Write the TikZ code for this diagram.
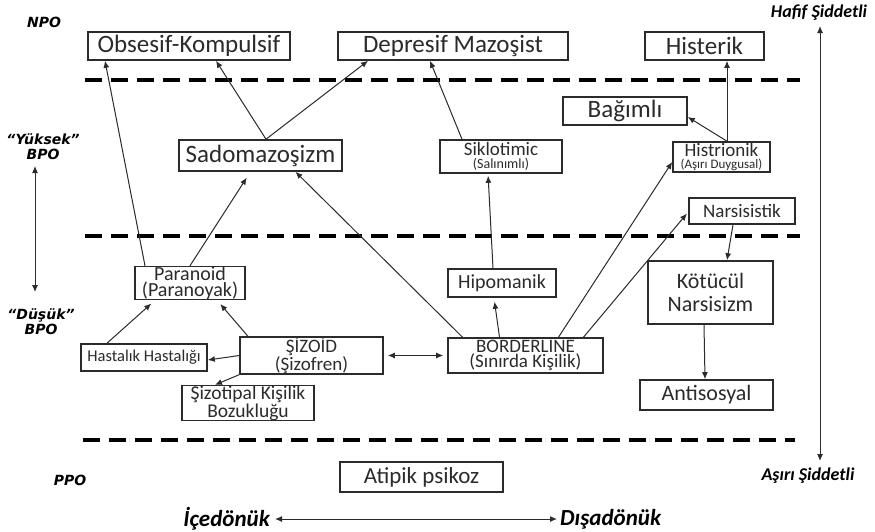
\documentclass[tikz,border=0pt]{standalone}
\usepackage{fontspec}
\setmainfont{Carlito}
\newfontfamily\widefont{DejaVu Sans}
\usetikzlibrary{arrows.meta}
\definecolor{ink}{HTML}{2B2B2B}
\newcommand\setfs[2]{\fontsize{#1}{#2}\selectfont}
\begin{document}
\begin{tikzpicture}[x=1pt,y=-1pt,
  box/.style={draw=ink, line width=1.6pt, inner sep=0pt, text=ink, align=center},
  arr/.style={draw=ink, line width=1pt, -{Latex[length=7pt,width=6pt]}},
  darr/.style={draw=ink, line width=1pt, {Latex[length=7pt,width=6pt]}-{Latex[length=7pt,width=6pt]}},
  sep/.style={draw=black, line width=3.5pt, dash pattern=on 17pt off 9pt},
  lab/.style={font=\bfseries\itshape\setfs{18}{18}, text=black, align=center, inner sep=0pt},
  wlab/.style={font=\widefont\bfseries\itshape\setfs{14}{15}, text=black, align=center, inner sep=0pt},
  axl/.style={font=\bfseries\itshape\setfs{23}{23}, text=black, inner sep=0pt}
]
\useasboundingbox[fill=white] (0,0) rectangle (875,531);

% separators
\draw[sep] (85,80) -- (800,80);
\draw[sep] (85,236) -- (800,236);
\draw[sep] (83,440) -- (795,440);

% boxes
\node[box, minimum width=202, minimum height=28, font=\setfs{25}{25}] (obs) at (189,46) {Obsesif-Kompulsif};
\node[box, minimum width=230, minimum height=28, font=\setfs{25}{25}] (dep) at (453,46) {Depresif Mazoşist};
\node[box, minimum width=119, minimum height=28, font=\setfs{25}{25}] (his) at (704.5,46) {Histerik};
\node[box, minimum width=124, minimum height=28, font=\setfs{25}{25}] (bag) at (625,111) {Bağımlı};
\node[box, minimum width=163, minimum height=31, font=\setfs{25}{25}] (sado) at (260.5,155.5) {Sadomazoşizm};
\node[box, minimum width=122, minimum height=33, font=\setfs{19}{13}] (sik) at (501,156.5) {Siklotimic\\{\setfs{14}{13}(Salınımlı)}};
\node[box, minimum width=97, minimum height=30, font=\setfs{19}{12}] (histr) at (721.5,157) {Histrionik\\{\setfs{13}{12}(Aşırı Duygusal)}};
\node[box, minimum width=106, minimum height=26, font=\setfs{19}{19}] (nar) at (742,211) {Narsisistik};
\node[box, minimum width=110, minimum height=30, font=\setfs{20}{14}] (par) at (190,283) {Paranoid\\(Paranoyak)};
\node[box, minimum width=108, minimum height=28, font=\setfs{20}{20}] (hip) at (502,283) {Hipomanik};
\node[box, minimum width=125, minimum height=63, font=\setfs{22}{23}] (kot) at (710.5,292.5) {Kötücül\\Narsisizm};
\node[box, minimum width=126, minimum height=27, font=\setfs{16.5}{16.5}] (hast) at (144,357.5) {Hastalık Hastalığı};
\node[box, minimum width=143, minimum height=35, font=\setfs{19}{15}] (siz) at (311.5,355.5) {ŞİZOİD\\(Şizofren)};
\node[box, minimum width=132, minimum height=30, font=\setfs{19.5}{13}] (sizo) at (248,403) {Şizotipal Kişilik\\Bozukluğu};
\node[box, minimum width=155, minimum height=35, font=\setfs{19}{15}] (bord) at (525.5,355.5) {BORDERLINE\\(Sınırda Kişilik)};
\node[box, minimum width=133, minimum height=30, font=\setfs{22}{22}] (anti) at (706.5,395) {Antisosyal};
\node[box, minimum width=163, minimum height=30, font=\setfs{23}{23}] (atip) at (421.5,477) {Atipik psikoz};

% connectors
\draw[arr] ([xshift=-45pt]par.north) -- ([xshift=-84pt]obs.south);
\draw[arr] ([xshift=5.5pt]sado.north) -- ([xshift=27pt]obs.south);
\draw[arr] ([xshift=5.5pt]sado.north) -- ([xshift=-85pt]dep.south);
\draw[arr] ([xshift=-39pt]sik.north) -- ([xshift=-23pt]dep.south);
\draw[arr] ([xshift=5.5pt]histr.north) -- ([xshift=22.5pt]his.south);
\draw[arr] ([xshift=5.5pt]histr.north) -- ([yshift=-6pt]bag.east);
\draw[arr, shorten >=7pt] (par.north) -- ([xshift=-10pt]sado.south);
\draw[arr] ([xshift=-63pt]bord.north) -- ([xshift=35pt]sado.south);
\draw[arr, shorten >=2pt] ([xshift=-9pt]hip.north) -- ([xshift=-13pt]sik.south);
\draw[arr, shorten >=4pt] ([xshift=-26pt]bord.north) -- ([xshift=-8pt]hip.south);
\draw[arr] ([xshift=33pt]bord.north) -- ([yshift=-5pt]histr.west);
\draw[arr, shorten >=2pt] ([xshift=58pt]bord.north) -- ([yshift=-1pt]nar.west);
\draw[arr] ([xshift=-9pt]nar.south) -- ([xshift=16.5pt]kot.north);
\draw[arr] ([xshift=-6.5pt]kot.south) -- ([xshift=-1.5pt]anti.north);
\draw[arr, shorten >=5pt] ([xshift=-37pt]hast.north) -- ([xshift=-35pt]par.south);
\draw[arr, shorten >=5pt] ([xshift=-63.5pt]siz.north) -- ([xshift=27pt]par.south);
\draw[arr] (siz.west) -- ([yshift=-2.5pt]hast.east);
\draw[arr] (siz.south west) -- ([xshift=-33pt]sizo.north);
\draw[darr, shorten <=4pt, shorten >=4pt] (siz.east) -- (bord.west);

% side labels
\node[wlab] (npo) at (44,22) {NPO};
\node[wlab] (yuk) at (43,147) {“Yüksek”\\BPO};
\node[wlab] (dus) at (41,322) {“Düşük”\\BPO};
\node[wlab] (ppo) at (70,480) {PPO};
\node[lab] (haf) at (819,13) {Hafif Şiddetli};
\node[lab] (asi) at (808,476) {Aşırı Şiddetli};
\coordinate (lt) at (35,166);
\coordinate (lb) at (35,292);
\draw[darr] (lt) -- (lb);
\coordinate (rt) at (820,26);
\coordinate (rb) at (820,461);
\draw[darr] (rt) -- (rb);

% bottom axis
\node[axl, anchor=east] (ice) at (270,519) {İçedönük};
\node[axl, anchor=west] (dis) at (560,519) {Dışadönük};
\draw[darr, shorten <=5pt, shorten >=3pt] (ice.east) -- (dis.west);
\end{tikzpicture}
\end{document}
